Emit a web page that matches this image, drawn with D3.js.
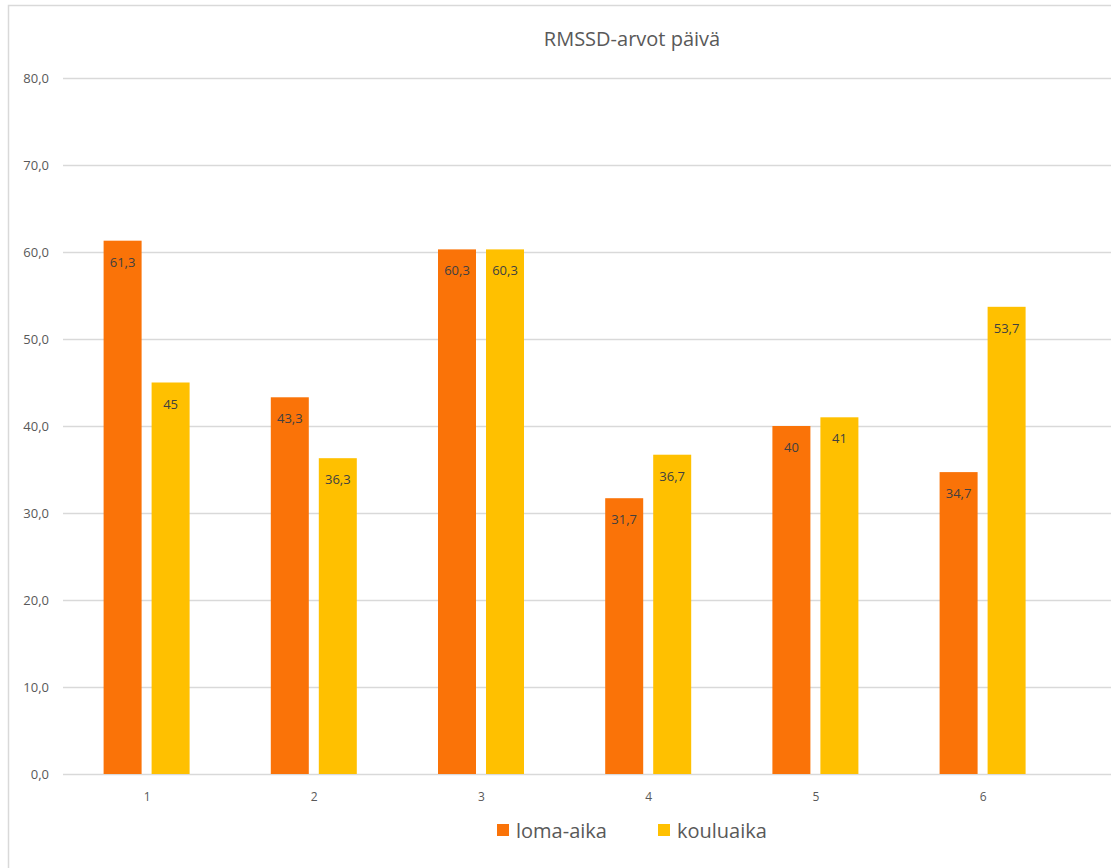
<!DOCTYPE html>
<html>
<head>
<meta charset="utf-8">
<script src="https://cdn.jsdelivr.net/npm/d3@7"></script>
<style>
  html, body { margin: 0; padding: 0; background: #fff; }
  svg { display: block; }
</style>
</head>
<body>
<svg id="chart" width="1111" height="868"></svg>
<script>
const categories = ["1", "2", "3", "4", "5", "6"];
const seriesNames = ["loma-aika", "kouluaika"];
const lomaAika = [61.3, 43.3, 60.3, 31.7, 40, 34.7];
const kouluaika = [45, 36.3, 60.3, 36.7, 41, 53.7];
const yTicks = [0, 10, 20, 30, 40, 50, 60, 70, 80];
const colors = ["#FA7308", "#FFC000"];
const title = "RMSSD-arvot päivä";

const svg = d3.select("#chart");
const font = "'Open Sans', sans-serif";

// outer border
svg.append("rect").attr("x", 8.5).attr("y", 5.5).attr("width", 1200).attr("height", 1000)
  .attr("fill", "none").attr("stroke", "#d9d9d9").attr("stroke-width", 1.5);

const left = 63, bandW = 167.2;
const x = d3.scaleBand().domain(categories).range([left, left + bandW * categories.length]).padding(0);
const y = d3.scaleLinear().domain([0, 80]).range([774, 78]);

// gridlines
svg.append("g").selectAll("line").data(yTicks).join("line")
  .attr("x1", left).attr("x2", 1111)
  .attr("y1", d => Math.round(y(d)) + 0.5).attr("y2", d => Math.round(y(d)) + 0.5)
  .attr("stroke", "#d9d9d9").attr("stroke-width", 1.3);

// y-axis labels
const fmt = d => d3.format(".1f")(d).replace(".", ",");
svg.append("g").selectAll("text").data(yTicks).join("text")
  .attr("x", 49).attr("y", d => y(d) + 5)
  .attr("text-anchor", "end").attr("font-family", font).attr("font-size", 13)
  .attr("fill", "#595959").text(fmt);

// x labels
svg.append("g").selectAll("text").data(categories).join("text")
  .attr("x", d => x(d) + x.bandwidth() / 2 + 0.5).attr("y", 801)
  .attr("text-anchor", "middle").attr("font-family", font).attr("font-size", 12)
  .attr("fill", "#595959").text(d => d);

// bars
const barW = 38, gap = 10;
const x1 = d3.scaleBand().domain(seriesNames).range([0, barW * 2 + gap]).paddingInner(gap / (barW + gap));
const data = [lomaAika, kouluaika];
const lbl = v => String(v).replace(".", ",");

seriesNames.forEach((s, si) => {
  const g = svg.append("g");
  const vals = data[si].map((v, i) => ({ cat: categories[i], v }));
  g.selectAll("rect").data(vals).join("rect")
    .attr("x", d => x(d.cat) + x.bandwidth() / 2 - (barW * 2 + gap) / 2 + x1(s))
    .attr("y", d => y(d.v))
    .attr("width", x1.bandwidth())
    .attr("height", d => y(0) - y(d.v))
    .attr("fill", colors[si]);
  g.selectAll("text").data(vals).join("text")
    .attr("x", d => x(d.cat) + x.bandwidth() / 2 - (barW * 2 + gap) / 2 + x1(s) + x1.bandwidth() / 2)
    .attr("y", d => y(d.v) + 26)
    .attr("text-anchor", "middle").attr("font-family", font).attr("font-size", 13)
    .attr("fill", "#404040").text(d => lbl(d.v));
});

// title
svg.append("text").attr("x", 632).attr("y", 46).attr("text-anchor", "middle")
  .attr("font-family", font).attr("font-size", 20).attr("fill", "#595959").text(title);

// legend
const legendX = [497, 658];
seriesNames.forEach((s, i) => {
  svg.append("rect").attr("x", legendX[i]).attr("y", 824).attr("width", 12).attr("height", 12)
    .attr("fill", colors[i]);
  svg.append("text").attr("x", legendX[i] + 19).attr("y", 838)
    .attr("font-family", font).attr("font-size", 20).attr("fill", "#595959").text(s);
});
</script>
</body>
</html>
